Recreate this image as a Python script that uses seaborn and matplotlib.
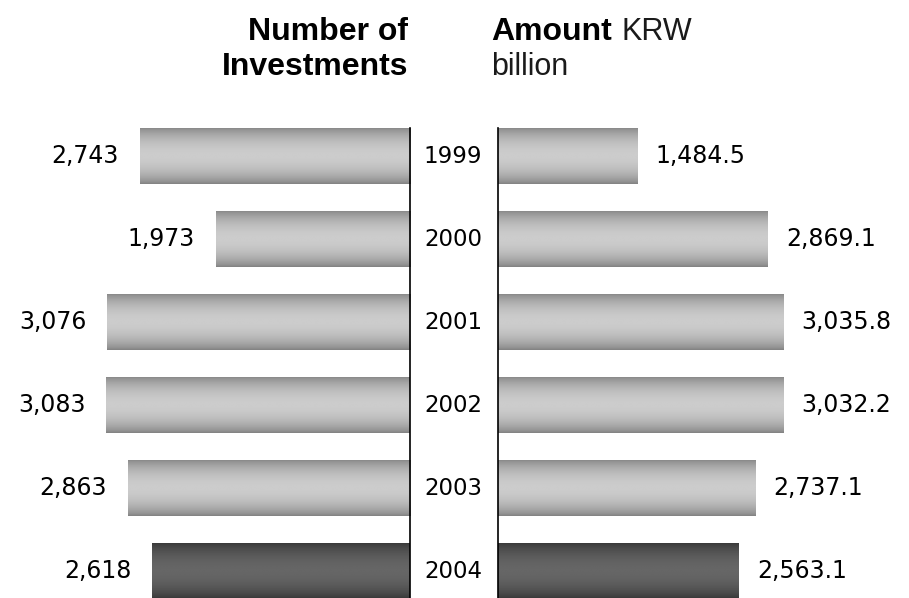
import numpy as np
import pandas as pd
import matplotlib.pyplot as plt
import matplotlib.transforms as mtransforms
import seaborn as sns

# Data
years = ["1999", "2000", "2001", "2002", "2003", "2004"]
investments = [2743, 1973, 3076, 3083, 2863, 2618]
amounts = [1484.5, 2869.1, 3035.8, 3032.2, 2737.1, 2563.1]

df = pd.DataFrame({"year": years, "count": investments, "amount": amounts})

sns.set_style("white")
plt.rcParams["font.family"] = ["DejaVu Sans"]
plt.rcParams["text.color"] = "black"

W, H = 909, 598
fig = plt.figure(figsize=(W / 100, H / 100), dpi=100)


def px_axes(x0, x1, top):
    # axes placed in pixel coordinates, running down to the bottom edge
    return fig.add_axes([x0 / W, 0, (x1 - x0) / W, (H - top) / H])


ax_l = px_axes(0, 410, 128)
ax_r = px_axes(498, 909, 128)

sns.barplot(data=df, x="count", y="year", orient="h", color="#aaaaaa",
            width=0.675, ax=ax_l)
sns.barplot(data=df, x="amount", y="year", orient="h", color="#aaaaaa",
            width=0.675, ax=ax_r)


def shade(ax):
    # vertical metallic gradient clipped to each bar
    t = np.linspace(0, 1, 200)
    bump = np.sin(np.pi * t) ** 0.7
    for i, bar in enumerate(ax.patches):
        if years[i] == years[-1]:
            edge, mid = 0.20, 0.40
        else:
            edge, mid = 0.50, 0.80
        grad = (edge + (mid - edge) * bump)[:, None]
        x0, y0 = bar.get_x(), bar.get_y()
        x1, y1 = x0 + bar.get_width(), y0 + bar.get_height()
        im = ax.imshow(grad, cmap="gray", vmin=0, vmax=1, aspect="auto",
                       extent=(x0, x1, y1, y0), interpolation="bilinear",
                       zorder=bar.get_zorder() + 0.1)
        im.set_clip_path(bar)


shade(ax_l)
shade(ax_r)

ax_l.set_xlim(4162, 0)
ax_r.set_xlim(0, 4372)
for ax in (ax_l, ax_r):
    ax.set_ylim(5.325, -0.3375)
    ax.set_xticks([])
    ax.set_yticks([])
    ax.set_xlabel("")
    ax.set_ylabel("")
    for s in ax.spines.values():
        s.set_visible(False)

ax_l.spines["right"].set_visible(True)
ax_r.spines["left"].set_visible(True)
for s in (ax_l.spines["right"], ax_r.spines["left"]):
    s.set_color("black")
    s.set_linewidth(1.2)
    s.set_zorder(5)

ax_l.bar_label(ax_l.containers[0], labels=[f"{v:,}" for v in investments],
               padding=15, fontsize=17, color="black")
ax_r.bar_label(ax_r.containers[0], labels=[f"{v:,.1f}" for v in amounts],
               padding=13, fontsize=17, color="black")

# year labels between the two panels
trans = mtransforms.blended_transform_factory(fig.transFigure, ax_l.transData)
for i, y in enumerate(years):
    fig.text(453 / W, i, y, transform=trans, ha="center", va="center",
             fontsize=16.5, color="black")

# headers
title_font = "Liberation Sans"
fig.text(408 / W, 1 - 40 / H, "Number of", ha="right", va="baseline",
         fontsize=23, fontweight="bold", family=title_font, color="black")
fig.text(408 / W, 1 - 75 / H, "Investments", ha="right", va="baseline",
         fontsize=23, fontweight="bold", family=title_font, color="black")
fig.text(491 / W, 1 - 40 / H, "Amount", ha="left", va="baseline",
         fontsize=23, fontweight="bold", family=title_font, color="black")
fig.text(622 / W, 1 - 40 / H, "KRW", ha="left", va="baseline",
         fontsize=22, family=title_font, color="#1a1a1a")
fig.text(491 / W, 1 - 75 / H, "billion", ha="left", va="baseline",
         fontsize=22, family=title_font, color="#1a1a1a")

plt.savefig("out.png", dpi=100)
